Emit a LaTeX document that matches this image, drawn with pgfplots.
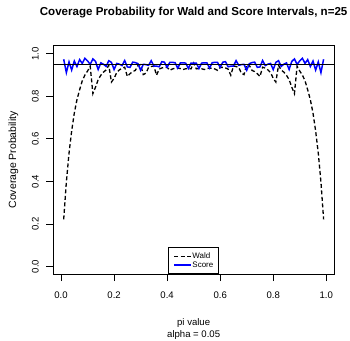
\documentclass[border=0pt]{standalone}
\usepackage{fontspec}
\setmainfont{Liberation Sans}
\usepackage{pgfplots}
\usepackage{pgfplotstable}
\pgfplotsset{compat=1.18}
\pgfplotstableread{
p wald score
0.01 0.2221 0.9742
0.02 0.3964 0.9114
0.03 0.5322 0.9620
0.04 0.6368 0.9235
0.05 0.7214 0.9659
0.06 0.7840 0.9402
0.07 0.8306 0.9726
0.08 0.8728 0.9548
0.09 0.9000 0.9789
0.10 0.9188 0.9666
0.11 0.9417 0.9502
0.12 0.8126 0.9758
0.13 0.8431 0.9642
0.14 0.8782 0.9261
0.15 0.8990 0.9573
0.16 0.9139 0.9509
0.17 0.9239 0.9407
0.18 0.9460 0.9675
0.19 0.8671 0.9597
0.20 0.8845 0.9259
0.21 0.9121 0.9547
0.22 0.9242 0.9512
0.23 0.9326 0.9446
0.24 0.9370 0.9683
0.25 0.8931 0.9382
0.26 0.9065 0.9360
0.27 0.9161 0.9607
0.28 0.9219 0.9586
0.29 0.9452 0.9537
0.30 0.9493 0.9225
0.31 0.9022 0.9504
0.32 0.9089 0.9492
0.33 0.9357 0.9456
0.34 0.9402 0.9677
0.35 0.9424 0.9424
0.36 0.8992 0.9419
0.37 0.9280 0.9388
0.38 0.9334 0.9630
0.39 0.9361 0.9604
0.40 0.9363 0.9363
0.41 0.9223 0.9596
0.42 0.9286 0.9597
0.43 0.9323 0.9581
0.44 0.9327 0.9327
0.45 0.9306 0.9572
0.46 0.9259 0.9578
0.47 0.9297 0.9562
0.48 0.9309 0.9309
0.49 0.9292 0.9560
0.50 0.9567 0.9567
0.51 0.9292 0.9560
0.52 0.9309 0.9309
0.53 0.9297 0.9562
0.54 0.9259 0.9578
0.55 0.9306 0.9572
0.56 0.9327 0.9327
0.57 0.9323 0.9581
0.58 0.9286 0.9597
0.59 0.9223 0.9596
0.60 0.9363 0.9363
0.61 0.9361 0.9604
0.62 0.9334 0.9630
0.63 0.9280 0.9388
0.64 0.8992 0.9419
0.65 0.9424 0.9424
0.66 0.9402 0.9677
0.67 0.9357 0.9456
0.68 0.9089 0.9492
0.69 0.9022 0.9504
0.70 0.9493 0.9225
0.71 0.9452 0.9537
0.72 0.9219 0.9586
0.73 0.9161 0.9607
0.74 0.9065 0.9360
0.75 0.8931 0.9382
0.76 0.9370 0.9683
0.77 0.9326 0.9446
0.78 0.9242 0.9512
0.79 0.9121 0.9547
0.80 0.8845 0.9259
0.81 0.8671 0.9597
0.82 0.9460 0.9675
0.83 0.9239 0.9407
0.84 0.9139 0.9509
0.85 0.8990 0.9573
0.86 0.8782 0.9261
0.87 0.8431 0.9642
0.88 0.8126 0.9758
0.89 0.9417 0.9502
0.90 0.9188 0.9666
0.91 0.9000 0.9789
0.92 0.8728 0.9548
0.93 0.8306 0.9726
0.94 0.7840 0.9402
0.95 0.7214 0.9659
0.96 0.6368 0.9235
0.97 0.5322 0.9620
0.98 0.3964 0.9114
0.99 0.2221 0.9742
}\covtable
\begin{document}
\begin{tikzpicture}
\useasboundingbox (-53.3bp,-67bp) rectangle (296.7bp,274bp);
\begin{axis}[
  width=280.7bp, height=228.3bp, scale only axis,
  xmin=-0.0292, xmax=1.0292, ymin=-0.035, ymax=1.038,
  xtick={0,0.2,0.4,0.6,0.8,1.0},
  xticklabels={0.0,0.2,0.4,0.6,0.8,1.0},
  ytick={0,0.2,0.4,0.6,0.8,1.0},
  yticklabels={0.0,0.2,0.4,0.6,0.8,1.0},
  tick align=outside, xtick pos=bottom, ytick pos=left,
  major tick length=7bp, minor tick num=0,
  tick style={black, line width=0.8bp},
  axis line style={black, line width=0.9bp},
  ticklabel style={font=\fontsize{9.6}{11}\selectfont},
  xticklabel shift=7bp,
  yticklabel shift=4bp,
  yticklabel style={rotate=90, anchor=south},
  title={Coverage Probability for Wald and Score Intervals, n=25},
  title style={font=\bfseries\fontsize{11.6}{13}\selectfont, at={(axis description cs:0.5,1)}, anchor=base, yshift=24.2bp, inner sep=0pt},
  ylabel={Coverage Probability},
  ylabel style={font=\fontsize{10.5}{12}\selectfont, at={(axis description cs:-0.1418,0.5)}, anchor=center, inner sep=0pt},
  xlabel={pi value\\alpha = 0.05},
  xlabel style={align=center, font=\fontsize{9.6}{12}\selectfont, at={(axis description cs:0.5,0)}, anchor=north, yshift=-44.5bp, inner sep=0pt},
  legend style={at={(axis description cs:0.5,0)}, anchor=south, draw=black, line width=0.8bp, fill=white,
    inner xsep=5bp, inner ysep=4.5bp, font=\fontsize{8}{8}\selectfont, row sep=0bp,
    nodes={inner sep=0.5bp, text height=6bp, text depth=1.5bp},
    /tikz/every even column/.append style={column sep=4bp}},
  legend cell align=left,
  legend image code/.code={\draw[#1] (0bp,0bp) -- (17bp,0bp);},
]
\addplot[black, line width=1.3bp, dash pattern=on 4bp off 2.5bp] table[x=p,y=wald]{\covtable};
\addlegendentry{Wald}
\addplot[blue, line width=1.5bp] table[x=p,y=score]{\covtable};
\addlegendentry{Score}
\addplot[black, line width=1bp, forget plot] coordinates {(-0.0292,0.95) (1.0292,0.95)};
\end{axis}
\end{tikzpicture}
\end{document}
